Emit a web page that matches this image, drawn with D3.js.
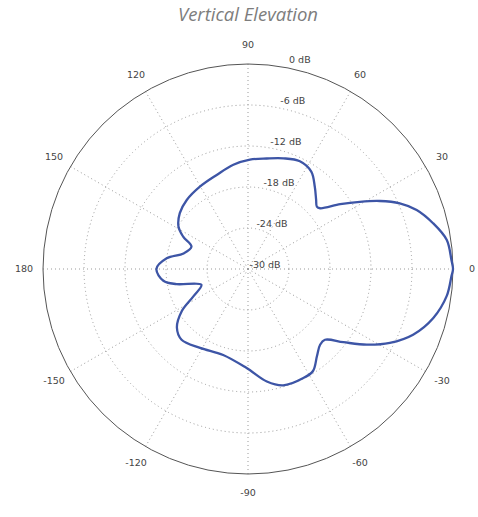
<!DOCTYPE html>
<html>
<head>
<meta charset="utf-8">
<script src="https://cdn.jsdelivr.net/npm/d3@7"></script>
<style>
  html, body { margin: 0; padding: 0; background: #fff; }
  svg { display: block; }
</style>
</head>
<body>
<script>
const title = "Vertical Elevation";
const angleTicks = [0, 30, 60, 90, 120, 150, 180, -150, -120, -90, -60, -30];
const dbTicks = [0, -6, -12, -18, -24, -30];
const dbMin = -30, dbMax = 0;

// Pattern: angle in degrees (counter-clockwise from 0 = right), gain in dB
const patternAngles = [0, 2.5, 8.3, 13.9, 19.3, 23.4, 27.3, 31, 35.1, 40.1, 42.2, 45.4, 50.9, 57, 64.3, 72.3, 80.4, 89, 98, 108.4, 120.3, 131.6, 140.7, 148.7, 153.5, 158.4, 166.4, 172.5, 180, 187.9, 191.9, 198.7, 206.5, 212.5, 219.6, 226.8, 238.7, 253.9, 269.2, 279.5, 286.8, 296.9, 302.5, 308.4, 313.6, 317.4, 322.5, 327.5, 332.5, 338.3, 345.2, 352.3, 358.1];
const patternDb =     [0, -0.2, -0.6, -2.1, -3.85, -5.8, -8.3, -10.9, -13.5, -16.2, -16.4, -15.8, -14.5, -13.0, -12.5, -13.0, -13.6, -14.0, -14.6, -15.5, -16.05, -16.5, -17.1, -18.1, -19.4, -21.1, -20.3, -18.0, -16.6, -17.5, -19.3, -22.8, -21.1, -18.5, -16.5, -15.8, -16.5, -16.9, -15.5, -13.3, -12.2, -12.1, -12.3, -13.75, -14.7, -14.7, -12.4, -9.4, -6.6, -4.0, -1.95, -0.65, -0.2];

const W = 478, H = 517;
const cx = 248, cy = 269, R = 205;

const svg = d3.select("body").append("svg").attr("width", W).attr("height", H);

svg.append("text")
  .attr("x", cx).attr("y", 21)
  .attr("text-anchor", "middle")
  .attr("font-family", "'Open Sans', sans-serif")
  .attr("font-style", "italic")
  .attr("font-size", 18.5)
  .attr("fill", "#7d7d7d")
  .text(title);

const r = d3.scaleLinear().domain([dbMin, dbMax]).range([0, R]);
const toRad = d => d * Math.PI / 180;

const g = svg.append("g").attr("transform", `translate(${cx},${cy})`);

// dotted rings
g.selectAll("circle.ring")
  .data(dbTicks.filter(d => d > dbMin && d < dbMax))
  .join("circle")
  .attr("class", "ring")
  .attr("r", d => r(d))
  .attr("fill", "none")
  .attr("stroke", "#9a9a9a")
  .attr("stroke-width", 1)
  .attr("stroke-dasharray", "1,3");

// dotted spokes
g.selectAll("line.spoke")
  .data(angleTicks)
  .join("line")
  .attr("class", "spoke")
  .attr("x1", 0).attr("y1", 0)
  .attr("x2", d => r(dbMax) * Math.cos(toRad(d)))
  .attr("y2", d => -r(dbMax) * Math.sin(toRad(d)))
  .attr("stroke", "#9a9a9a")
  .attr("stroke-width", 1)
  .attr("stroke-dasharray", "1,3");

// outer circle
g.append("circle")
  .attr("r", r(dbMax))
  .attr("fill", "none")
  .attr("stroke", "#555")
  .attr("stroke-width", 1);

// angle labels
g.selectAll("text.ang")
  .data(angleTicks)
  .join("text")
  .attr("class", "ang")
  .attr("x", d => (r(dbMax) + 19) * Math.cos(toRad(d)))
  .attr("y", d => -(r(dbMax) + 19) * Math.sin(toRad(d)))
  .attr("dy", "0.35em")
  .attr("text-anchor", "middle")
  .attr("font-family", "'DejaVu Sans', sans-serif")
  .attr("font-size", 9.5)
  .attr("fill", "#444")
  .text(d => d);

// dB labels
g.selectAll("text.db")
  .data(dbTicks)
  .join("text")
  .attr("class", "db")
  .attr("x", d => 17 + r(d) * 0.17)
  .attr("y", d => -r(d) - 4.5)
  .attr("dy", "0.35em")
  .attr("text-anchor", "middle")
  .attr("font-family", "'DejaVu Sans', sans-serif")
  .attr("font-size", 9.5)
  .attr("fill", "#444")
  .attr("xml:space", "preserve")
  .text(d => d + " dB");

// pattern
const pts = patternAngles.map((a, i) => [a, patternDb[i]]);
const line = d3.lineRadial()
  .angle(d => Math.PI / 2 - toRad(d[0]))
  .radius(d => r(d[1]))
  .curve(d3.curveCatmullRomClosed.alpha(0.5));

g.append("path")
  .datum(pts)
  .attr("d", line)
  .attr("fill", "none")
  .attr("stroke", "#3d55a6")
  .attr("stroke-width", 2.3)
  .attr("stroke-linejoin", "round");
</script>
</body>
</html>
